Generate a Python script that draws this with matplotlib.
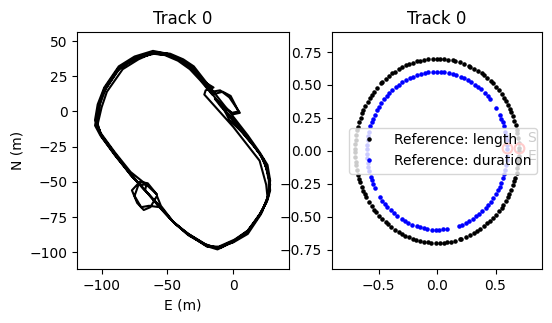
import numpy as np
import matplotlib.pyplot as plt

# recorded track, lap by lap (E, N in metres)
lap1_e = [-60, -49, -39, -31, -22, -16, -10, -3, 5, 0, -7, -14, -9, 0, 10, 20, 24, 27, 28, 26,
          20, 10, 0, -12, -21, -35, -46, -56, -67, -78, -89, -100, -104, -102, -98, -87, -74, -61]
lap1_n = [42, 40, 36, 31, 21, 14, 15, 10, -1, -2, 3, 9, 3, -6, -17, -30, -37, -46, -56, -63,
          -73, -86, -92, -97, -95, -87, -78, -68, -56, -45, -31, -17, -8, 4, 16, 31, 38, 42]
lap2_e = [-61, -50, -40, -31, -22, -15, -21, -22, 0, 20, 25, 26, 21, 11, 0, -13, -22, -36, -46, -55,
          -58, -63, -68, -73, -77, -71, -65, -58, -66, -78, -90, -101, -105, -103, -98, -87, -75, -61]
lap2_n = [43, 41, 37, 31, 21, 17, 15, 12, -11, -35, -52, -61, -73, -87, -93, -97, -94, -86, -78, -67,
          -60, -68, -70, -65, -56, -50, -51, -59, -52, -43, -29, -15, -6, 5, 17, 32, 39, 43]
lap3_e = [-61, -52, -42, -33, -25, -16, -8, -2, 4, -1, -9, -3, 7, 15, 21, 25, 27, 27, 25, 19,
          9, -1, -12, -19, -34, -45, -57, -69, -80, -91, -101, -104, -101, -97, -86, -73, -60]
lap3_n = [41, 40, 36, 30, 22, 12, 14, 11, 0, -1, 5, -6, -15, -24, -31, -40, -49, -58, -65, -75,
          -87, -93, -98, -96, -88, -79, -66, -54, -42, -29, -16, -7, 6, 16, 31, 38, 41]
lap4_e = [-60, -48, -38, -30, -20, -10, 1, 11, 20, 26, 28, 27, 22, 12, 1, -11, -20, -33, -44, -55,
          -66, -77, -89, -100, -103, -100, -96, -84, -72, -60]
lap4_n = [42, 41, 37, 32, 20, 8, -5, -17, -29, -38, -49, -59, -71, -84, -91, -96, -96, -88, -80, -69,
          -57, -46, -32, -18, -9, 3, 14, 30, 37, 42]
lap5_e = [-59, -50, -41, -33, -24, -14, -4, 6, 16, 23, 26, 28, 26, 21, 12, 2, -10, -20, -34, -45,
          -56, -64, -70, -75, -72, -66, -67, -78, -90, -101, -105, -103, -99, -88, -76, -62, -59]
lap5_n = [41, 40, 37, 31, 22, 10, -2, -14, -25, -34, -43, -52, -62, -72, -84, -91, -97, -95, -87, -79,
          -68, -67, -68, -60, -52, -52, -56, -45, -31, -17, -10, 1, 13, 29, 37, 41, 41]

# reference points, angle (deg) around the unit track and radius
len_deg = [0, 2, 5, 8, 11, 13, 16, 19, 22, 25, 27, 30, 33, 35, 38, 41, 44, 47, 49, 52, 55, 57, 60,
           63, 66, 67, 71, 74, 77, 79, 82, 85, 88, 90, 93, 96, 99, 102, 104, 107, 110, 112, 115,
           118, 121, 123, 126, 129, 132, 133, 137, 140, 143, 145, 148, 151, 154, 156, 159, 162,
           165, 167, 170, 173, 176, 179, 181, 184, 187, 189, 192, 195, 198, 200, 203, 206, 208,
           210, 214, 217, 220, 222, 225, 228, 231, 233, 236, 239, 242, 245, 247, 250, 253, 255,
           258, 261, 264, 266, 269, 272, 275, 277, 280, 283, 286, 287, 291, 294, 297, 299, 302,
           305, 308, 310, 313, 316, 319, 322, 324, 327, 330, 332, 335, 338, 341, 343, 346, 349,
           352, 354, 357]
len_r = 0.7
dur_deg = [1, 4, 8, 11, 14, 18, 21, 24, 27, 33, 41, 44, 47, 51, 54, 57, 61, 64, 67, 70, 74, 77,
           80, 84, 87, 90, 93, 97, 100, 103, 107, 110, 113, 116, 120, 123, 126, 130, 133, 136,
           139, 143, 146, 149, 153, 156, 159, 162, 166, 169, 172, 176, 179, 182, 185, 189, 192,
           195, 199, 202, 205, 208, 216, 219, 222, 225, 229, 232, 235, 240, 243, 246, 249, 253,
           256, 259, 262, 266, 269, 272, 275, 278, 288, 291, 294, 297, 301, 304, 307, 310, 314,
           317, 320, 323, 327, 330, 333, 336, 340, 343, 346, 350, 353, 356]
dur_r = 0.6
start_x = [0.6, 0.7]
start_y = [0.02, 0.02]

fig = plt.figure(figsize=(5.52, 3.23), dpi=100)
ax1 = fig.add_axes([0.140, 0.1663, 0.3835, 0.7337])
ax2 = fig.add_axes([0.601, 0.1663, 0.3815, 0.7337])

e = lap1_e + lap2_e + lap3_e + lap4_e + lap5_e
n = lap1_n + lap2_n + lap3_n + lap4_n + lap5_n
ax1.plot(e, n, 'k-', lw=1.5)
ax1.set_xlim(-118.5, 42.3)
ax1.set_ylim(-112.1, 56.2)
ax1.set_xlabel('E (m)')
ax1.set_ylabel('N (m)')
ax1.set_title('Track 0')

a = np.deg2rad(len_deg)
ax2.plot(len_r * np.cos(a), len_r * np.sin(a), 'k.', ms=4.5, label='Reference: length')
a = np.deg2rad(dur_deg)
ax2.plot(dur_r * np.cos(a), dur_r * np.sin(a), 'b.', ms=4.5, label='Reference: duration')
ax2.plot(start_x, start_y, 'o', mfc='none', mec='red', ms=7, mew=1.5)
ax2.text(0.77, 0.1, 'S', va='center', ha='left')
ax2.text(0.77, -0.04, 'E', va='center', ha='left')
ax2.set_xlim(-0.9, 0.9)
ax2.set_ylim(-0.9, 0.9)
ax2.set_title('Track 0')
ax2.legend(loc='center', bbox_to_anchor=(0.528, 0.5))

fig.savefig('out.png')
